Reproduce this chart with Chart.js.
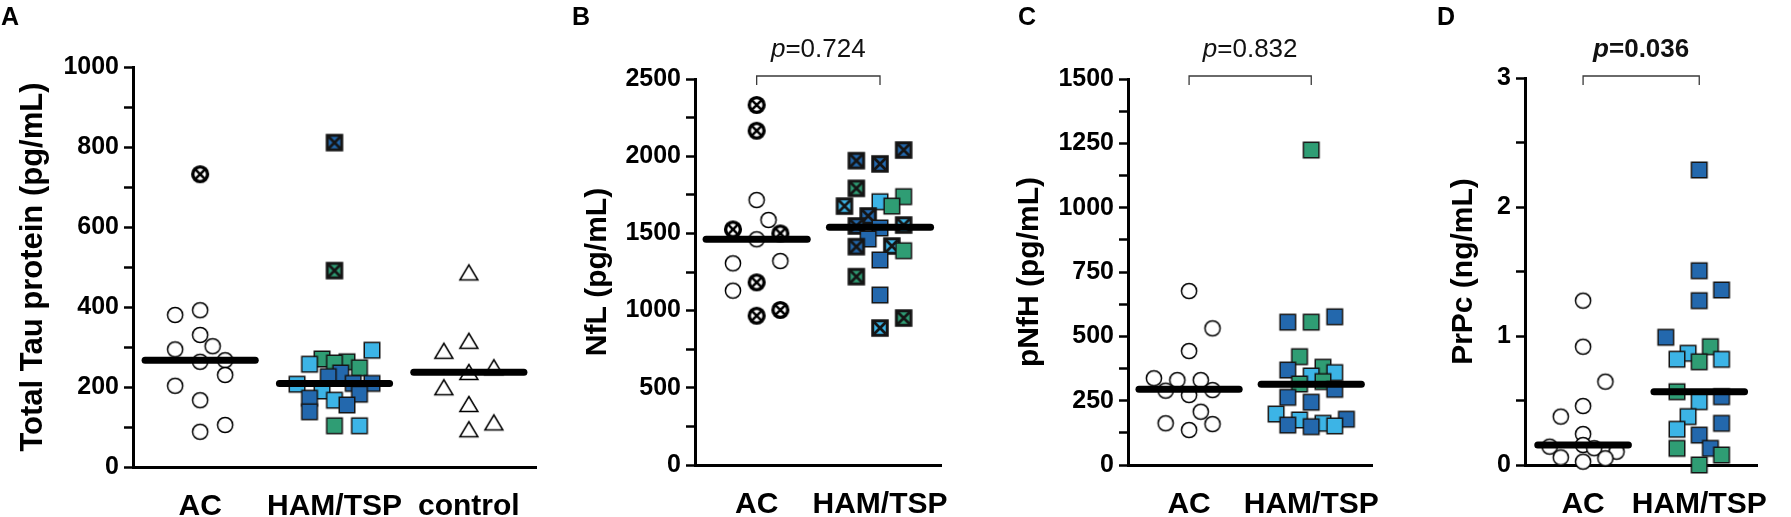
<!DOCTYPE html>
<html>
<head>
<meta charset="utf-8">
<script src="https://cdn.jsdelivr.net/npm/chart.js@4.4.1/dist/chart.umd.min.js"></script>
<style>
  body { margin: 0; background: #fff; width: 1791px; height: 517px; overflow: hidden; position: relative;
         font-family: "Liberation Sans", Arial, sans-serif; }
  canvas { position: absolute; top: 0; }
  .tag { position: absolute; top: 4px; font-weight: bold; font-size: 25px; line-height: 1; color: #000; }
</style>
</head>
<body>
<canvas id="chartA" width="545" height="517" style="left:0"></canvas>
<canvas id="chartB" width="430" height="517" style="left:545px"></canvas>
<canvas id="chartC" width="430" height="517" style="left:975px"></canvas>
<canvas id="chartD" width="386" height="517" style="left:1405px"></canvas>
<div class="tag" style="left:1px">A</div>
<div class="tag" style="left:572px">B</div>
<div class="tag" style="left:1018px">C</div>
<div class="tag" style="left:1437px">D</div>

<script>
// ================= DATA =================
// kinds: o open circle, x crossed circle, t triangle,
// d/l/g dark-blue / light-blue / green square, upper case = crossed square

// ----- A: total tau -----
const tauGroups = ["AC", "HAM/TSP", "control"];
const tauTicks = [0, 200, 400, 600, 800, 1000];
const tauAc = [732, 392, 380, 330, 302, 294, 267, 263, 230, 203, 167, 105, 88];
const tauAcLane = [0, 0, -2, 0, 1, -2, 2, 0, 2, -2, 0, 2, 0];
const tauAcKind = ["x", "o", "o", "o", "o", "o", "o", "o", "o", "o", "o", "o", "o"];
const tauHam = [811, 491, 292, 270, 263, 260, 257, 248, 235, 226, 209, 209, 207, 190, 182, 172, 167, 155, 138, 103, 103];
const tauHamLane = [0, 0, 3, -1, 1, 0, -2, 2, 0.5, -0.5, 1.5, 3, -3, -1, 2, -2, 0, 1, -2, 0, 2];
const tauHamKind = ["D", "G", "l", "g", "g", "g", "l", "g", "d", "d", "d", "d", "l", "l", "d", "d", "l", "d", "d", "g", "l"];
const tauCtl = [484, 313, 288, 247, 235, 197, 155, 109, 92];
const tauCtlLane = [0, 0, -2, 2, 0, -2, 0, 2, 0];
const tauCtlKind = ["t", "t", "t", "t", "t", "t", "t", "t", "t"];
const tauMedian = [267, 209, 237];

// ----- B: NfL -----
const nflGroups = ["AC", "HAM/TSP"];
const nflTicks = [0, 500, 1000, 1500, 2000, 2500];
const nflAc = [2332, 2165, 1716, 1587, 1526, 1500, 1462, 1321, 1306, 1183, 1129, 1004, 967];
const nflAcLane = [0, 0, 0, 1, -2, 2, 0, 2, -2, 0, -2, 2, 0];
const nflAcKind = ["x", "x", "o", "o", "x", "x", "o", "o", "o", "x", "o", "x", "x"];
const nflHam = [2040, 1971, 1950, 1792, 1738, 1705, 1677, 1677, 1613, 1554, 1548, 1535, 1464, 1418, 1414, 1388, 1328, 1220, 1101, 952, 887];
const nflHamLane = [2, -2, 0, -2, 2, 0, 1, -3, -1, 2, -2, 0, -1, 1, -2, 2, 0, -2, 0, 2, 0];
const nflHamKind = ["D", "D", "D", "G", "g", "l", "g", "L", "D", "L", "D", "d", "d", "L", "D", "g", "d", "G", "d", "G", "L"];
const nflMedian = [1462, 1540];
const nflP = "=0.724";

// ----- C: pNfH -----
const nfhGroups = ["AC", "HAM/TSP"];
const nfhTicks = [0, 250, 500, 750, 1000, 1250, 1500];
const nfhAc = [676, 531, 443, 337, 330, 330, 291, 289, 272, 207, 162, 159, 136];
const nfhAcLane = [0, 2, 0, -3, -1, 1, 2, -2, 0, 1, -2, 2, 0];
const nfhAcKind = ["o", "o", "o", "o", "o", "o", "o", "o", "o", "o", "o", "o", "o"];
const nfhHam = [1224, 576, 555, 555, 421, 380, 369, 359, 346, 324, 315, 294, 263, 244, 198, 178, 175, 162, 155, 152, 149];
const nfhHamLane = [0, 2, -2, 0, -1, 1, -2, 2, 0, 1, -1, 2, -2, 0, -3, 3, -1, 1, -2, 2, 0];
const nfhHamKind = ["g", "d", "d", "g", "g", "g", "d", "l", "l", "g", "g", "d", "d", "d", "l", "d", "l", "l", "d", "l", "d"];
const nfhMedian = [294, 314];
const nfhP = "=0.832";

// ----- D: PrPc -----
const prpGroups = ["AC", "HAM/TSP"];
const prpTicks = [0, 1, 2, 3];
const prpAc = [1.274, 0.917, 0.646, 0.457, 0.375, 0.240, 0.155, 0.142, 0.130, 0.103, 0.059, 0.052, 0.026];
const prpAcLane = [0, 0, 2, 0, -2, 0, 0, -3, 1, 3, -2, 2, 0];
const prpAcKind = ["o", "o", "o", "o", "o", "o", "o", "o", "o", "o", "o", "o", "o"];
const prpHam = [2.287, 1.506, 1.357, 1.274, 0.99, 0.917, 0.866, 0.82, 0.819, 0.80, 0.568, 0.53, 0.491, 0.375, 0.323, 0.277, 0.232, 0.129, 0.129, 0.078, 0.0];
const prpHamLane = [0, 0, 2, 0, -3, 1, -1, -2, 2, 0, -2, 2, 0, -1, 2, -2, 0, -2, 1, 2, 0];
const prpHamKind = ["d", "d", "d", "d", "d", "g", "l", "l", "l", "g", "g", "d", "l", "l", "d", "l", "d", "g", "d", "g", "g"];
const prpMedian = [0.155, 0.568];
const prpP = "=0.036";

// ================= MARKERS =================
const FONT = '"Liberation Sans", Arial, sans-serif';
const SQUARE_COLORS = { d: "#2368ad", l: "#3cb4e6", g: "#2f9d74" };

function makeMarker(kind) {
  const c = document.createElement("canvas");
  c.width = c.height = 22;
  const g = c.getContext("2d");
  const m = 11;
  g.strokeStyle = "#000";
  if (kind === "o") {
    g.beginPath(); g.arc(m, m, 7.6, 0, Math.PI * 2);
    g.fillStyle = "#fff"; g.fill();
    g.lineWidth = 1.5; g.stroke();
  } else if (kind === "x") {
    g.beginPath(); g.arc(m, m, 7.4, 0, Math.PI * 2);
    g.fillStyle = "#fff"; g.fill();
    g.lineWidth = 3.4; g.stroke();
    const r = 5.4;
    g.lineWidth = 2.6;
    g.beginPath();
    g.moveTo(m - r, m - r); g.lineTo(m + r, m + r);
    g.moveTo(m + r, m - r); g.lineTo(m - r, m + r);
    g.stroke();
  } else if (kind === "t") {
    g.beginPath();
    g.moveTo(m, m - 8.5); g.lineTo(m + 9, m + 6.5); g.lineTo(m - 9, m + 6.5); g.closePath();
    g.fillStyle = "#fff"; g.fill();
    g.lineWidth = 1.5; g.lineJoin = "miter"; g.stroke();
  } else {
    const crossed = kind !== kind.toLowerCase();
    const s = 15.5, x0 = m - s / 2;
    g.fillStyle = SQUARE_COLORS[kind.toLowerCase()];
    g.fillRect(x0, x0, s, s);
    g.strokeStyle = "#151515";
    if (crossed) {
      g.lineWidth = 3;
      g.strokeRect(x0 + 0.5, x0 + 0.5, s - 1, s - 1);
      g.lineWidth = 2.8;
      g.beginPath();
      g.moveTo(x0 + 2, x0 + 2); g.lineTo(x0 + s - 2, x0 + s - 2);
      g.moveTo(x0 + s - 2, x0 + 2); g.lineTo(x0 + 2, x0 + s - 2);
      g.stroke();
    } else {
      g.lineWidth = 1.5;
      g.strokeRect(x0, x0, s, s);
    }
  }
  return c;
}

const markers = {};
["o", "x", "t", "d", "l", "g", "D", "L", "G"].forEach(k => markers[k] = makeMarker(k));

// ================= P-VALUE BRACKET =================
const pvalPlugin = {
  id: "pval",
  afterDraw(chart, args, opts) {
    if (!opts.text) return;
    const { ctx } = chart;
    const xs = chart.scales.x;
    const x1 = xs.getPixelForValue(0.5), x2 = xs.getPixelForValue(1.5);
    const yb = 76;
    ctx.save();
    ctx.strokeStyle = "#3a3a3a";
    ctx.lineWidth = 1.3;
    ctx.beginPath();
    ctx.moveTo(x1, yb + 9); ctx.lineTo(x1, yb); ctx.lineTo(x2, yb); ctx.lineTo(x2, yb + 9);
    ctx.stroke();

    const w = opts.bold ? "bold " : "";
    const fItal = `italic ${w}26px ${FONT}`;
    const fNorm = `${w}26px ${FONT}`;
    ctx.font = fItal; const wp = ctx.measureText("p").width;
    ctx.font = fNorm; const wr = ctx.measureText(opts.text).width;
    const x0 = (x1 + x2) / 2 - (wp + wr) / 2;
    ctx.fillStyle = "#111";
    ctx.textBaseline = "alphabetic";
    ctx.font = fItal; ctx.fillText("p", x0, 57);
    ctx.font = fNorm; ctx.fillText(opts.text, x0 + wp, 57);
    ctx.restore();
  }
};

// ================= CHARTS =================
function buildTicks(majors) {
  const all = [];
  majors.forEach((v, i) => {
    all.push(v);
    if (i < majors.length - 1) all.push((v + majors[i + 1]) / 2);
  });
  return all;
}

function buildChart(id, cfg) {
  const datasets = [];
  cfg.series.forEach((s, i) => {
    datasets.push({
      type: "scatter",
      data: s.values.map((v, j) => ({ x: i + 0.5 + s.lanes[j] * cfg.lane, y: v })),
      pointStyle: ctx => markers[s.kinds[ctx.dataIndex]],
      pointRadius: 8,
      pointHoverRadius: 8,
      order: 2,
      clip: false
    });
    datasets.push({
      type: "line",
      data: [{ x: i + 0.5 - cfg.half, y: cfg.medians[i] }, { x: i + 0.5 + cfg.half, y: cfg.medians[i] }],
      borderColor: "#000",
      borderWidth: 7,
      borderCapStyle: "round",
      pointRadius: 0,
      order: 1,
      clip: false
    });
  });

  const allTicks = buildTicks(cfg.ticks);

  return new Chart(document.getElementById(id), {
    type: "scatter",
    data: { datasets },
    plugins: [pvalPlugin],
    options: {
      responsive: false,
      animation: false,
      events: [],
      layout: { padding: { top: cfg.top, right: cfg.right, left: 0, bottom: 0 } },
      plugins: {
        legend: { display: false },
        tooltip: { enabled: false },
        pval: { text: cfg.p, bold: cfg.pBold }
      },
      scales: {
        x: {
          type: "linear",
          min: 0,
          max: cfg.groups.length,
          afterBuildTicks: s => { s.ticks = cfg.groups.map((g, i) => ({ value: i + 0.5 })); },
          afterFit: s => { s.height = 517 - cfg.bottom; },
          ticks: {
            autoSkip: false, maxRotation: 0, padding: 22, color: "#000",
            font: { family: FONT, size: 30, weight: "bold" },
            callback: (v, i) => cfg.groups[i]
          },
          grid: { drawOnChartArea: false, drawTicks: false },
          border: { display: true, color: "#000", width: 3 }
        },
        y: {
          type: "linear",
          min: 0,
          max: cfg.ticks[cfg.ticks.length - 1],
          afterBuildTicks: s => { s.ticks = allTicks.map(v => ({ value: v })); },
          afterFit: s => { s.width = cfg.yWidth; },
          ticks: {
            autoSkip: false, padding: 5, color: "#000",
            font: { family: FONT, size: 25, weight: "bold" },
            callback: v => cfg.ticks.includes(v) ? String(v) : ""
          },
          grid: { drawOnChartArea: false, drawTicks: true, tickLength: 9, tickWidth: 2.5, tickColor: "#000" },
          border: { display: true, color: "#000", width: 3 },
          title: {
            display: true, text: cfg.title, color: "#000",
            font: { family: FONT, size: cfg.titleSize, weight: "bold" },
            padding: { top: cfg.titlePad, bottom: 0 }
          }
        }
      }
    }
  });
}

buildChart("chartA", {
  groups: tauGroups, ticks: tauTicks, medians: tauMedian,
  series: [
    { values: tauAc, lanes: tauAcLane, kinds: tauAcKind },
    { values: tauHam, lanes: tauHamLane, kinds: tauHamKind },
    { values: tauCtl, lanes: tauCtlLane, kinds: tauCtlKind }
  ],
  title: "Total Tau protein (pg/mL)", titleSize: 31, titlePad: 15,
  top: 67, bottom: 467, right: 8, yWidth: 133, lane: 0.093, half: 0.41
});

buildChart("chartB", {
  groups: nflGroups, ticks: nflTicks, medians: nflMedian,
  series: [
    { values: nflAc, lanes: nflAcLane, kinds: nflAcKind },
    { values: nflHam, lanes: nflHamLane, kinds: nflHamKind }
  ],
  title: "NfL (pg/mL)", titleSize: 30, titlePad: 35,
  top: 79, bottom: 465, right: 22, yWidth: 150, lane: 0.096, half: 0.41,
  p: nflP, pBold: false
});

buildChart("chartC", {
  groups: nfhGroups, ticks: nfhTicks, medians: nfhMedian,
  series: [
    { values: nfhAc, lanes: nfhAcLane, kinds: nfhAcKind },
    { values: nfhHam, lanes: nfhHamLane, kinds: nfhHamKind }
  ],
  title: "pNfH (pg/mL)", titleSize: 30, titlePad: 37,
  top: 79, bottom: 465, right: 17, yWidth: 153, lane: 0.096, half: 0.41,
  p: nfhP, pBold: false
});

buildChart("chartD", {
  groups: prpGroups, ticks: prpTicks, medians: prpMedian,
  series: [
    { values: prpAc, lanes: prpAcLane, kinds: prpAcKind },
    { values: prpHam, lanes: prpHamLane, kinds: prpHamKind }
  ],
  title: "PrPc (ng/mL)", titleSize: 30, titlePad: 41,
  top: 78, bottom: 465, right: 6, yWidth: 120, lane: 0.096, half: 0.39,
  p: prpP, pBold: true
});
</script>
</body>
</html>
